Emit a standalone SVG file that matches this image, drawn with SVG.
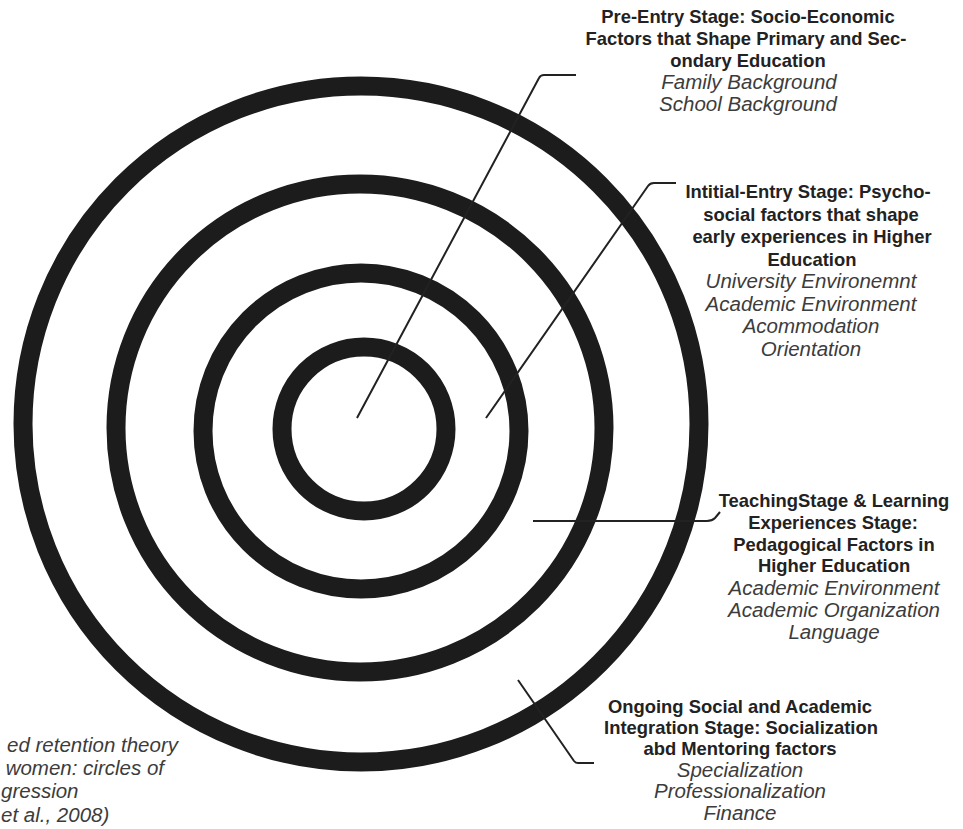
<svg xmlns="http://www.w3.org/2000/svg" width="963" height="829" viewBox="0 0 963 829">
  <style>
    .ring { fill: none; stroke: #1c1c1c; stroke-width: 19; }
    .lead { fill: none; stroke: #222; stroke-width: 2; stroke-linejoin: round; }
    .h { font-family: "Liberation Sans", Arial, sans-serif; font-weight: bold; font-size: 18.4px; fill: #222; text-anchor: middle; }
    .i { font-family: "Liberation Sans", Arial, sans-serif; font-style: italic; font-size: 20.5px; fill: #3c3c3c; text-anchor: middle; }
    .c { font-family: "Liberation Sans", Arial, sans-serif; font-style: italic; font-size: 20.5px; fill: #3c3c3c; text-anchor: end; }
    .cs { font-family: "Liberation Sans", Arial, sans-serif; font-style: italic; font-size: 20.5px; fill: #3c3c3c; text-anchor: start; }
  </style>
  <rect width="963" height="829" fill="#ffffff"/>

  <g id="rings">
    <circle id="ring-outer" class="ring" cx="361" cy="424" r="338"/>
    <circle id="ring-3" class="ring" cx="360" cy="428" r="244"/>
    <circle id="ring-2" class="ring" cx="361" cy="431" r="158"/>
    <circle id="ring-inner" class="ring" cx="364" cy="429" r="82"/>
  </g>

  <g id="connectors">
    <path class="lead" d="M357,418 L539,78 Q540.5,75 544,75 H576"/>
    <path class="lead" d="M486,418 L648,186 Q650,183 654,183 H676"/>
    <path class="lead" d="M533,521 H707 Q712,521 715,518 L720,512"/>
    <path class="lead" d="M518,680 L574,761 Q575.5,763 578,763 H594"/>
  </g>

  <g id="pre-entry">
    <text class="h" x="748" y="23">Pre-Entry Stage: Socio-Economic</text>
    <text class="h" x="746" y="45">Factors that Shape Primary and Sec-</text>
    <text class="h" x="748" y="67">ondary Education</text>
    <text class="i" x="749" y="89">Family Background</text>
    <text class="i" x="748" y="111">School Background</text>
  </g>

  <g id="initial-entry">
    <text class="h" x="808" y="198">Intitial-Entry Stage: Psycho-</text>
    <text class="h" x="811" y="220.5">social factors that shape</text>
    <text class="h" x="812" y="243">early experiences in Higher</text>
    <text class="h" x="812" y="265.5">Education</text>
    <text class="i" x="811" y="288">University Environemnt</text>
    <text class="i" x="811" y="310.5">Academic Environment</text>
    <text class="i" x="811" y="333">Acommodation</text>
    <text class="i" x="811" y="355.5">Orientation</text>
  </g>

  <g id="teaching-learning">
    <text class="h" x="834" y="507">TeachingStage &amp; Learning</text>
    <text class="h" x="833" y="529">Experiences Stage:</text>
    <text class="h" x="834" y="551">Pedagogical Factors in</text>
    <text class="h" x="834" y="572">Higher Education</text>
    <text class="i" x="834" y="595">Academic Environment</text>
    <text class="i" x="834" y="617">Academic Organization</text>
    <text class="i" x="834" y="639">Language</text>
  </g>

  <g id="ongoing-integration">
    <text class="h" x="740" y="713">Ongoing Social and Academic</text>
    <text class="h" x="741" y="734">Integration Stage: Socialization</text>
    <text class="h" x="740" y="755">abd Mentoring factors</text>
    <text class="i" x="740" y="777">Specialization</text>
    <text class="i" x="740" y="798">Professionalization</text>
    <text class="i" x="740" y="820">Finance</text>
  </g>

  <g id="caption">
    <text class="c" x="178" y="752">ed retention theory</text>
    <text class="c" x="164" y="775">women: circles of</text>
    <text class="cs" x="1" y="798">gression</text>
    <text class="cs" x="1" y="822">et al., 2008)</text>
  </g>
</svg>
